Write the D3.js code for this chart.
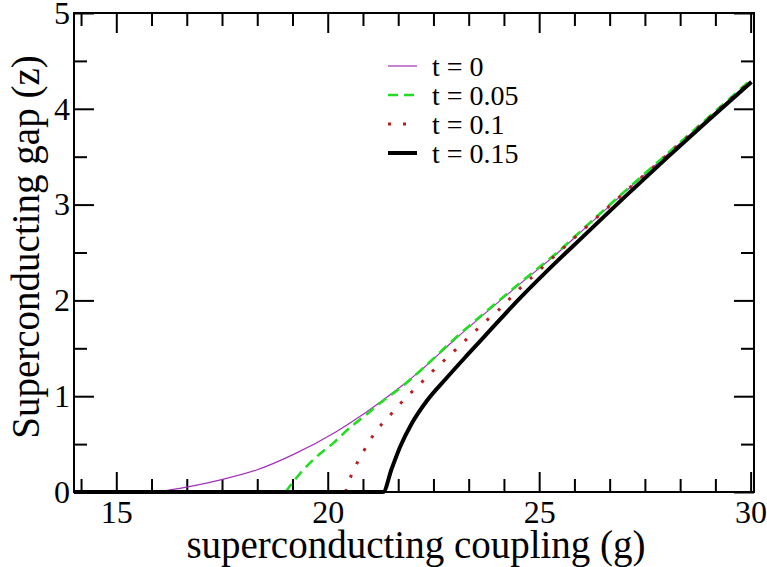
<!DOCTYPE html>
<html>
<head>
<meta charset="utf-8">
<script src="https://cdn.jsdelivr.net/npm/d3@7"></script>
<style>
  body { margin: 0; background: #fff; }
</style>
</head>
<body>
<div id="graph"></div>
<script>
// values
var g0 = [16.0, 16.66, 17.49, 18.32, 19.18, 20.2, 20.9, 21.7, 22.2, 23.0, 23.76, 24.54, 25.45, 26, 27, 28, 29, 30];
var z0 = [0, 0.05, 0.13, 0.23, 0.39, 0.63, 0.83, 1.09, 1.27, 1.59, 1.88, 2.17, 2.5, 2.72, 3.12, 3.51, 3.9, 4.29];

var g05 = [19.0, 19.34, 19.74, 20.13, 20.52, 20.92, 21.3, 21.7, 22.2, 23.0, 23.76, 24.54, 25.45, 26, 27, 28, 29, 30];
var z05 = [0, 0.19, 0.37, 0.51, 0.67, 0.81, 0.95, 1.08, 1.27, 1.6, 1.89, 2.18, 2.51, 2.73, 3.13, 3.52, 3.91, 4.3];

var g10 = [20.42, 20.58, 20.74, 20.92, 21.1, 21.47, 21.71, 22.0, 22.3, 22.57, 22.87, 23.15, 23.44, 23.73, 24.02, 24.31, 24.6, 24.9, 25.21, 26, 27, 28, 29, 30];
var z10 = [0, 0.2, 0.34, 0.48, 0.61, 0.8, 0.92, 1.05, 1.18, 1.3, 1.42, 1.54, 1.66, 1.78, 1.89, 2.02, 2.15, 2.27, 2.4, 2.72, 3.12, 3.51, 3.9, 4.29];

var g15 = [14, 21.31, 21.51, 21.71, 21.98, 22.34, 22.81, 23.28, 23.76, 24.54, 25.45, 26, 27, 28, 29, 30.02];
var z15 = [0, 0, 0.24, 0.47, 0.71, 0.95, 1.19, 1.42, 1.65, 2.02, 2.42, 2.65, 3.07, 3.48, 3.88, 4.28];

var legendLabels = ["t = 0", "t = 0.05", "t = 0.1", "t = 0.15"];
var xMajor = [15, 20, 25, 30];
var yMajor = [0, 1, 2, 3, 4, 5];

var serif = '"Liberation Serif", "Times New Roman", "DejaVu Serif", serif';
var width = 767, height = 567;
// plot frame (window.top is reserved, so prefixed names)
var pLeft = 74, pRight = 754, pTop = 13, pBottom = 492;

var svg = d3.select("#graph").append("svg")
    .attr("width", width)
    .attr("height", height)
    .style("font-family", serif);

var xScale = d3.scaleLinear().domain([14, 30.08]).range([pLeft, pRight]);
var yScale = d3.scaleLinear().domain([0, 5]).range([pBottom, pTop]);

// minor ticks: 5 between each major on x, 1 on y
var xMinor = [];
for (var k = -1; k < 20; k++) {
  var v = 15 + k * 5 / 6;
  if (v > 14 && v < 30.08 && k % 6 != 0) xMinor.push(v);
}
var yMinor = [0.5, 1.5, 2.5, 3.5, 4.5];

function styleAxis(g) {
  g.attr("font-family", null).attr("font-size", null);
  g.select(".domain").remove();
  g.selectAll("line").attr("stroke", "#000").attr("stroke-width", 2);
  g.selectAll("text")
    .style("font-family", serif)
    .style("font-size", "32px")
    .attr("fill", "#000");
}

svg.append("g").attr("transform", "translate(0," + pBottom + ")")
  .call(d3.axisBottom(xScale).tickValues(xMajor).tickSize(-20).tickPadding(8).tickFormat(d3.format("d")))
  .call(styleAxis);
svg.append("g").attr("transform", "translate(0," + pBottom + ")")
  .call(d3.axisBottom(xScale).tickValues(xMinor).tickSize(-13).tickFormat(""))
  .call(styleAxis);
svg.append("g").attr("transform", "translate(0," + pTop + ")")
  .call(d3.axisTop(xScale).tickValues(xMajor).tickSize(-20).tickFormat(""))
  .call(styleAxis);
svg.append("g").attr("transform", "translate(0," + pTop + ")")
  .call(d3.axisTop(xScale).tickValues(xMinor).tickSize(-13).tickFormat(""))
  .call(styleAxis);
svg.append("g").attr("transform", "translate(" + pLeft + ",0)")
  .call(d3.axisLeft(yScale).tickValues(yMajor).tickSize(-20).tickPadding(4).tickFormat(d3.format("d")))
  .call(styleAxis);
svg.append("g").attr("transform", "translate(" + pLeft + ",0)")
  .call(d3.axisLeft(yScale).tickValues(yMinor).tickSize(-13).tickFormat(""))
  .call(styleAxis);
svg.append("g").attr("transform", "translate(" + pRight + ",0)")
  .call(d3.axisRight(yScale).tickValues(yMajor).tickSize(-20).tickFormat(""))
  .call(styleAxis);
svg.append("g").attr("transform", "translate(" + pRight + ",0)")
  .call(d3.axisRight(yScale).tickValues(yMinor).tickSize(-13).tickFormat(""))
  .call(styleAxis);

// curves
var series = [
  { g: g0,  z: z0,  color: "#a030b8", w: 1.2, dash: null },
  { g: g05, z: z05, color: "#22dd22", w: 2.6, dash: "10,6" },
  { g: g10, z: z10, color: "#b52020", w: 3,   dash: "3,12" },
  { g: g15, z: z15, color: "#000000", w: 4,   dash: null }
];

var line = d3.line()
  .x(function(d) { return xScale(d[0]); })
  .y(function(d) { return yScale(d[1]); })
  .curve(d3.curveMonotoneX);

var plot = svg.append("g");
series.forEach(function(s) {
  var pts = s.g.map(function(v, i) { return [v, s.z[i]]; });
  plot.append("path")
    .datum(pts)
    .attr("d", line)
    .attr("fill", "none")
    .attr("stroke", s.color)
    .attr("stroke-width", s.w)
    .attr("stroke-dasharray", s.dash);
});

// frame
svg.append("rect")
  .attr("x", pLeft).attr("y", pTop)
  .attr("width", pRight - pLeft).attr("height", pBottom - pTop)
  .attr("fill", "none").attr("stroke", "#000").attr("stroke-width", 2);

// legend
var leg = svg.append("g");
series.forEach(function(s, i) {
  var y = 66 + i * 29;
  leg.append("line")
    .attr("x1", 388).attr("x2", 417).attr("y1", y).attr("y2", y)
    .attr("stroke", s.color).attr("stroke-width", s.w)
    .attr("stroke-dasharray", s.dash);
  leg.append("text")
    .attr("x", 432).attr("y", y)
    .attr("dy", "0.35em")
    .style("font-family", serif)
    .style("font-size", "28px")
    .text(legendLabels[i]);
});

// axis titles
svg.append("text")
  .attr("x", (pLeft + pRight) / 2 + 2).attr("y", 558)
  .attr("text-anchor", "middle")
  .style("font-family", serif)
  .style("font-size", "39px")
  .text("superconducting coupling (g)");

svg.append("text")
  .attr("transform", "translate(39,247) rotate(-90)")
  .attr("text-anchor", "middle")
  .style("font-family", serif)
  .style("font-size", "39px")
  .text("Superconducting gap (z)");
</script>
</body>
</html>
